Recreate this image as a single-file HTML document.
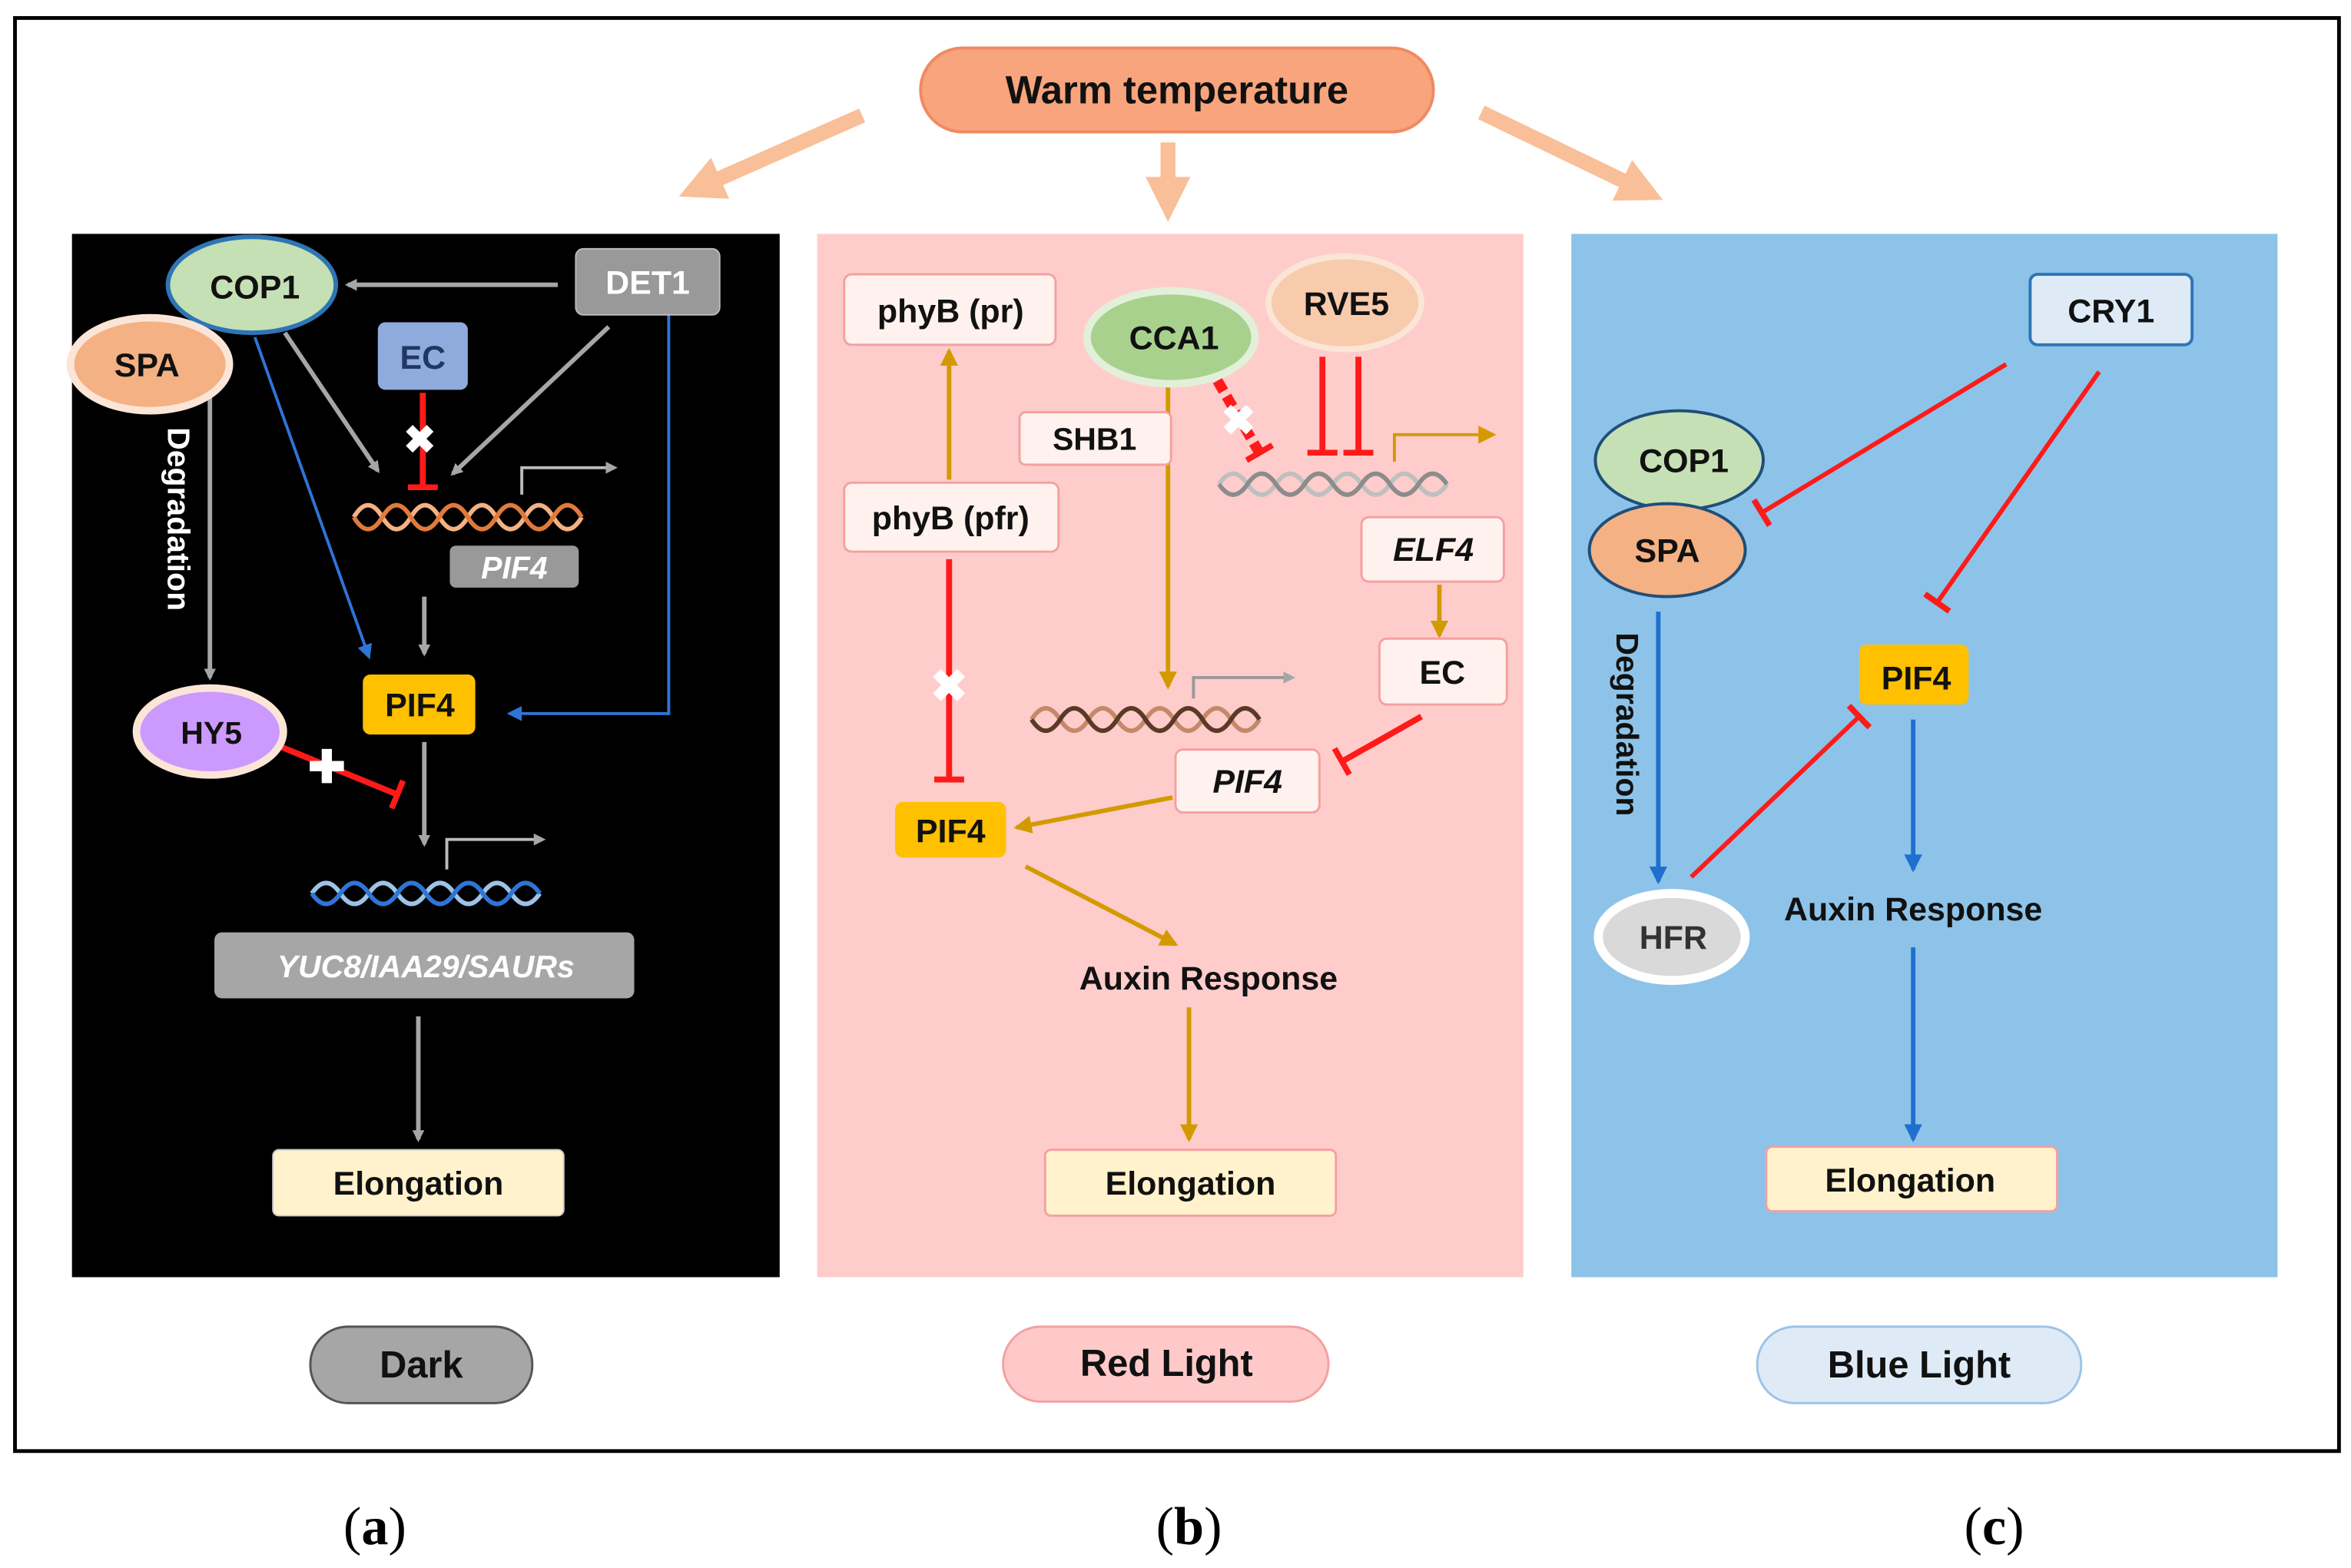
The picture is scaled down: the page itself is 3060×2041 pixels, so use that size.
<!DOCTYPE html>
<html><head><meta charset="utf-8"><style>
html,body{margin:0;padding:0;background:#fff;}
svg{display:block;}
text{font-family:"Liberation Sans",Arial,sans-serif;font-weight:bold;}
</style></head><body>
<svg width="3060" height="2041" viewBox="0 0 1568 1046" preserveAspectRatio="none" xmlns="http://www.w3.org/2000/svg">
<defs>
<marker id="ag" markerWidth="8" markerHeight="8" refX="6" refY="4" orient="auto" markerUnits="userSpaceOnUse" viewBox="0 0 8 8"><path d="M0,0 L8,4 L0,8 z" fill="#a6a6a6"/></marker>
<marker id="ab" markerWidth="10" markerHeight="10" refX="8" refY="5" orient="auto" markerUnits="userSpaceOnUse" viewBox="0 0 10 10"><path d="M0,0 L10,5 L0,10 z" fill="#2e75d6"/></marker>
<marker id="ao" markerWidth="12" markerHeight="12" refX="10" refY="6" orient="auto" markerUnits="userSpaceOnUse" viewBox="0 0 12 12"><path d="M0,0 L12,6 L0,12 z" fill="#d39a00"/></marker>
<marker id="ap" markerWidth="30" markerHeight="30" refX="20" refY="15" orient="auto" markerUnits="userSpaceOnUse" viewBox="0 0 30 30"><path d="M0,0 L30,15 L0,30 z" fill="#f9bf98"/></marker>
<marker id="ac" markerWidth="12" markerHeight="12" refX="10" refY="6" orient="auto" markerUnits="userSpaceOnUse" viewBox="0 0 12 12"><path d="M0,0 L12,6 L0,12 z" fill="#1f6fcf"/></marker>
<marker id="bar" markerWidth="4" markerHeight="20" refX="2" refY="10" orient="auto" markerUnits="userSpaceOnUse" viewBox="0 0 4 20"><rect x="0" y="0" width="4" height="20" fill="#ff1a1a"/></marker>
</defs>
<rect x="10" y="12" width="1550" height="956" fill="#fff" stroke="#000" stroke-width="2.5"/>
<!-- warm temperature -->
<rect x="614" y="32" width="342" height="56" rx="28" fill="#f8a47c" stroke="#f08a60" stroke-width="2"/>
<text x="785" y="69" font-size="26" text-anchor="middle" fill="#111">Warm temperature</text>
<line x1="575" y1="77" x2="462" y2="127" stroke="#f9bf98" stroke-width="10" marker-end="url(#ap)"/>
<line x1="779" y1="95" x2="779" y2="138" stroke="#f9bf98" stroke-width="10" marker-end="url(#ap)"/>
<line x1="988" y1="75" x2="1100" y2="129" stroke="#f9bf98" stroke-width="10" marker-end="url(#ap)"/>
<!-- panels -->
<rect x="48" y="156" width="472" height="696" fill="#000"/>
<rect x="545" y="156" width="471" height="696" fill="#ffcccc"/>
<rect x="1048" y="156" width="471" height="696" fill="#8dc3e8"/>

<!-- PANEL A -->
<line x1="372" y1="190" x2="232" y2="190" stroke="#a6a6a6" stroke-width="3" marker-end="url(#ag)"/>
<line x1="190" y1="222" x2="252" y2="314" stroke="#a6a6a6" stroke-width="3" marker-end="url(#ag)"/>
<line x1="406" y1="218" x2="302" y2="316" stroke="#a6a6a6" stroke-width="3" marker-end="url(#ag)"/>
<line x1="170" y1="225" x2="246" y2="438" stroke="#2e75d6" stroke-width="2" marker-end="url(#ab)"/>
<polyline points="446,210 446,476 340,476" fill="none" stroke="#2e75d6" stroke-width="2" marker-end="url(#ab)"/>
<line x1="140" y1="265" x2="140" y2="452" stroke="#a6a6a6" stroke-width="3" marker-end="url(#ag)"/>
<line x1="283" y1="398" x2="283" y2="436" stroke="#a6a6a6" stroke-width="3" marker-end="url(#ag)"/>
<line x1="283" y1="495" x2="283" y2="563" stroke="#a6a6a6" stroke-width="3" marker-end="url(#ag)"/>
<line x1="279" y1="678" x2="279" y2="760" stroke="#a6a6a6" stroke-width="3" marker-end="url(#ag)"/>
<line x1="282" y1="262" x2="282" y2="325" stroke="#ff1a1a" stroke-width="4" marker-end="url(#bar)"/>
<text x="280" y="302" font-size="26" text-anchor="middle" fill="#fff">✖</text>
<line x1="182" y1="496" x2="265" y2="530" stroke="#ff1a1a" stroke-width="4" marker-end="url(#bar)"/>
<text x="218" y="522" font-size="30" text-anchor="middle" fill="#fff">✚</text>
<ellipse cx="168" cy="190" rx="56" ry="32" fill="#c5e0b4" stroke="#2e75b6" stroke-width="3"/>
<text x="170" y="199" font-size="22" text-anchor="middle" fill="#111">COP1</text>
<ellipse cx="100" cy="243" rx="53" ry="31" fill="#f4b183" stroke="#fbe5d6" stroke-width="5"/>
<text x="98" y="251" font-size="22" text-anchor="middle" fill="#111">SPA</text>
<rect x="384" y="166" width="96" height="44" rx="5" fill="#999" stroke="#bbb"/>
<text x="432" y="196" font-size="22" text-anchor="middle" fill="#fff">DET1</text>
<rect x="252" y="215" width="60" height="45" rx="5" fill="#8faadc"/>
<text x="282" y="246" font-size="22" text-anchor="middle" fill="#1f3864">EC</text>
<text transform="translate(112,285) rotate(90)" font-size="21" fill="#fff">Degradation</text>
<g fill="none" stroke-width="3">
<path d="M236,345 q9.5,-16 19,0 t19,0 t19,0 t19,0 t19,0 t19,0 t19,0 t19,0" stroke="#f4b183"/>
<path d="M236,345 q9.5,16 19,0 t19,0 t19,0 t19,0 t19,0 t19,0 t19,0 t19,0" stroke="#e07a3a"/>
<path d="M208,596 q9.5,-14 19,0 t19,0 t19,0 t19,0 t19,0 t19,0 t19,0 t19,0" stroke="#9dc3e6"/>
<path d="M208,596 q9.5,14 19,0 t19,0 t19,0 t19,0 t19,0 t19,0 t19,0 t19,0" stroke="#2e75d6"/>
</g>
<polyline points="348,330 348,312 410,312" fill="none" stroke="#bbb" stroke-width="2" marker-end="url(#ag)"/>
<polyline points="298,580 298,560 362,560" fill="none" stroke="#bbb" stroke-width="2" marker-end="url(#ag)"/>
<rect x="300" y="364" width="86" height="28" rx="4" fill="#999"/>
<text x="343" y="386" font-size="21" text-anchor="middle" fill="#fff" font-style="italic">PIF4</text>
<rect x="242" y="450" width="75" height="40" rx="5" fill="#ffc000"/>
<text x="280" y="478" font-size="22" text-anchor="middle" fill="#111">PIF4</text>
<ellipse cx="140" cy="488" rx="49" ry="29" fill="#cc99ff" stroke="#fbe5d6" stroke-width="5"/>
<text x="141" y="496" font-size="21" text-anchor="middle" fill="#111">HY5</text>
<rect x="143" y="622" width="280" height="44" rx="5" fill="#a6a6a6"/>
<text x="284" y="652" font-size="21" text-anchor="middle" fill="#fff" font-style="italic">YUC8/IAA29/SAURs</text>
<rect x="182" y="767" width="194" height="44" rx="4" fill="#fff2cc" stroke="#ccc"/>
<text x="279" y="797" font-size="22" text-anchor="middle" fill="#111">Elongation</text>

<!-- PANEL B -->
<line x1="633" y1="320" x2="633" y2="234" stroke="#d39a00" stroke-width="3" marker-end="url(#ao)"/>
<line x1="633" y1="373" x2="633" y2="520" stroke="#ff1a1a" stroke-width="4" marker-end="url(#bar)"/>
<text x="633" y="468" font-size="30" text-anchor="middle" fill="#fff">✖</text>
<line x1="779" y1="258" x2="779" y2="458" stroke="#d39a00" stroke-width="3" marker-end="url(#ao)"/>
<line x1="812" y1="254" x2="840" y2="302" stroke="#ff1a1a" stroke-width="7" stroke-dasharray="8,4" marker-end="url(#bar)"/>
<text x="826" y="290" font-size="28" text-anchor="middle" fill="#fff">✖</text>
<line x1="882" y1="238" x2="882" y2="302" stroke="#ff1a1a" stroke-width="4" marker-end="url(#bar)"/>
<line x1="906" y1="238" x2="906" y2="302" stroke="#ff1a1a" stroke-width="4" marker-end="url(#bar)"/>
<line x1="960" y1="390" x2="960" y2="424" stroke="#d39a00" stroke-width="3" marker-end="url(#ao)"/>
<line x1="948" y1="478" x2="895" y2="508" stroke="#ff1a1a" stroke-width="4" marker-end="url(#bar)"/>
<line x1="782" y1="532" x2="678" y2="552" stroke="#d39a00" stroke-width="3" marker-end="url(#ao)"/>
<line x1="684" y1="578" x2="784" y2="630" stroke="#d39a00" stroke-width="3" marker-end="url(#ao)"/>
<line x1="793" y1="672" x2="793" y2="760" stroke="#d39a00" stroke-width="3" marker-end="url(#ao)"/>
<g fill="none" stroke-width="3">
<path d="M813,323 q9.5,-14 19,0 t19,0 t19,0 t19,0 t19,0 t19,0 t19,0 t19,0" stroke="#bfbfbf"/>
<path d="M813,323 q9.5,14 19,0 t19,0 t19,0 t19,0 t19,0 t19,0 t19,0 t19,0" stroke="#8c8c8c"/>
<path d="M688,480 q9.5,-15 19,0 t19,0 t19,0 t19,0 t19,0 t19,0 t19,0 t19,0" stroke="#c38a6a"/>
<path d="M688,480 q9.5,15 19,0 t19,0 t19,0 t19,0 t19,0 t19,0 t19,0 t19,0" stroke="#5a3a26"/>
</g>
<polyline points="930,308 930,290 996,290" fill="none" stroke="#d39a00" stroke-width="2" marker-end="url(#ao)"/>
<polyline points="796,466 796,452 862,452" fill="none" stroke="#999" stroke-width="2" marker-end="url(#ag)"/>
<rect x="563" y="183" width="141" height="47" rx="5" fill="#fff2ee" stroke="#f4a0a0" stroke-width="1.5"/>
<text x="634" y="215" font-size="22" text-anchor="middle" fill="#111">phyB (pr)</text>
<rect x="563" y="322" width="143" height="46" rx="5" fill="#fff2ee" stroke="#f4a0a0" stroke-width="1.5"/>
<text x="634" y="353" font-size="22" text-anchor="middle" fill="#111">phyB (pfr)</text>
<rect x="680" y="275" width="101" height="35" rx="4" fill="#fff2ee" stroke="#f4a0a0" stroke-width="1.5"/>
<text x="730" y="300" font-size="21" text-anchor="middle" fill="#111">SHB1</text>
<ellipse cx="781" cy="225" rx="56" ry="31" fill="#a9d18e" stroke="#e2f0d9" stroke-width="5"/>
<text x="783" y="233" font-size="22" text-anchor="middle" fill="#111">CCA1</text>
<ellipse cx="897" cy="202" rx="51" ry="31" fill="#f8cbad" stroke="#fbe5d6" stroke-width="4"/>
<text x="898" y="210" font-size="22" text-anchor="middle" fill="#111">RVE5</text>
<rect x="908" y="345" width="95" height="43" rx="5" fill="#fff2ee" stroke="#f4a0a0" stroke-width="1.5"/>
<text x="956" y="374" font-size="22" text-anchor="middle" fill="#111" font-style="italic">ELF4</text>
<rect x="920" y="426" width="85" height="44" rx="5" fill="#fff2ee" stroke="#f4a0a0" stroke-width="1.5"/>
<text x="962" y="456" font-size="22" text-anchor="middle" fill="#111">EC</text>
<rect x="784" y="500" width="96" height="42" rx="5" fill="#fff2ee" stroke="#f4a0a0" stroke-width="1.5"/>
<text x="832" y="529" font-size="22" text-anchor="middle" fill="#111" font-style="italic">PIF4</text>
<rect x="597" y="535" width="74" height="37" rx="5" fill="#ffc000"/>
<text x="634" y="562" font-size="22" text-anchor="middle" fill="#111">PIF4</text>
<text x="806" y="660" font-size="22" text-anchor="middle" fill="#111">Auxin Response</text>
<rect x="697" y="767" width="194" height="44" rx="4" fill="#fff2cc" stroke="#f4a0a0" stroke-width="1.5"/>
<text x="794" y="797" font-size="22" text-anchor="middle" fill="#111">Elongation</text>

<!-- PANEL C -->
<line x1="1338" y1="243" x2="1175" y2="342" stroke="#ff1a1a" stroke-width="3" marker-end="url(#bar)"/>
<line x1="1400" y1="248" x2="1292" y2="402" stroke="#ff1a1a" stroke-width="3" marker-end="url(#bar)"/>
<line x1="1128" y1="585" x2="1240" y2="478" stroke="#ff1a1a" stroke-width="3" marker-end="url(#bar)"/>
<line x1="1106" y1="408" x2="1106" y2="588" stroke="#1f6fcf" stroke-width="3" marker-end="url(#ac)"/>
<line x1="1276" y1="480" x2="1276" y2="580" stroke="#1f6fcf" stroke-width="3" marker-end="url(#ac)"/>
<line x1="1276" y1="632" x2="1276" y2="760" stroke="#1f6fcf" stroke-width="3" marker-end="url(#ac)"/>
<rect x="1354" y="183" width="108" height="47" rx="5" fill="#deebf7" stroke="#2e75b6" stroke-width="2"/>
<text x="1408" y="215" font-size="22" text-anchor="middle" fill="#111">CRY1</text>
<ellipse cx="1120" cy="307" rx="56" ry="33" fill="#c5e0b4" stroke="#1f4e79" stroke-width="2"/>
<text x="1123" y="315" font-size="22" text-anchor="middle" fill="#111">COP1</text>
<ellipse cx="1112" cy="367" rx="52" ry="31" fill="#f4b183" stroke="#1f4e79" stroke-width="2"/>
<text x="1112" y="375" font-size="22" text-anchor="middle" fill="#111">SPA</text>
<text transform="translate(1078,422) rotate(90)" font-size="21" fill="#111">Degradation</text>
<ellipse cx="1115" cy="625" rx="49" ry="29" fill="#d9d9d9" stroke="#fff" stroke-width="6"/>
<text x="1116" y="633" font-size="22" text-anchor="middle" fill="#333">HFR</text>
<rect x="1240" y="430" width="73" height="40" rx="5" fill="#ffc000"/>
<text x="1278" y="460" font-size="22" text-anchor="middle" fill="#111">PIF4</text>
<text x="1276" y="614" font-size="22" text-anchor="middle" fill="#111">Auxin Response</text>
<rect x="1178" y="765" width="194" height="43" rx="4" fill="#fff2cc" stroke="#f4a0a0" stroke-width="1.5"/>
<text x="1274" y="795" font-size="22" text-anchor="middle" fill="#111">Elongation</text>

<!-- bottom labels -->
<rect x="207" y="885" width="148" height="51" rx="25" fill="#a6a6a6" stroke="#555" stroke-width="1.5"/>
<text x="281" y="919" font-size="25" text-anchor="middle" fill="#111">Dark</text>
<rect x="669" y="885" width="217" height="50" rx="25" fill="#ffc9c9" stroke="#f4a0a0" stroke-width="1.5"/>
<text x="778" y="918" font-size="25" text-anchor="middle" fill="#111">Red Light</text>
<rect x="1172" y="885" width="216" height="51" rx="25" fill="#deebf7" stroke="#9dc3e6" stroke-width="1.5"/>
<text x="1280" y="919" font-size="25" text-anchor="middle" fill="#111">Blue Light</text>
<text x="250" y="1030" font-size="36" text-anchor="middle" fill="#000" style="font-family:'Liberation Serif',serif;font-weight:normal">(<tspan font-weight="bold">a</tspan>)</text>
<text x="793" y="1030" font-size="36" text-anchor="middle" fill="#000" style="font-family:'Liberation Serif',serif;font-weight:normal">(<tspan font-weight="bold">b</tspan>)</text>
<text x="1330" y="1030" font-size="36" text-anchor="middle" fill="#000" style="font-family:'Liberation Serif',serif;font-weight:normal">(<tspan font-weight="bold">c</tspan>)</text>
</svg>
</body></html>
